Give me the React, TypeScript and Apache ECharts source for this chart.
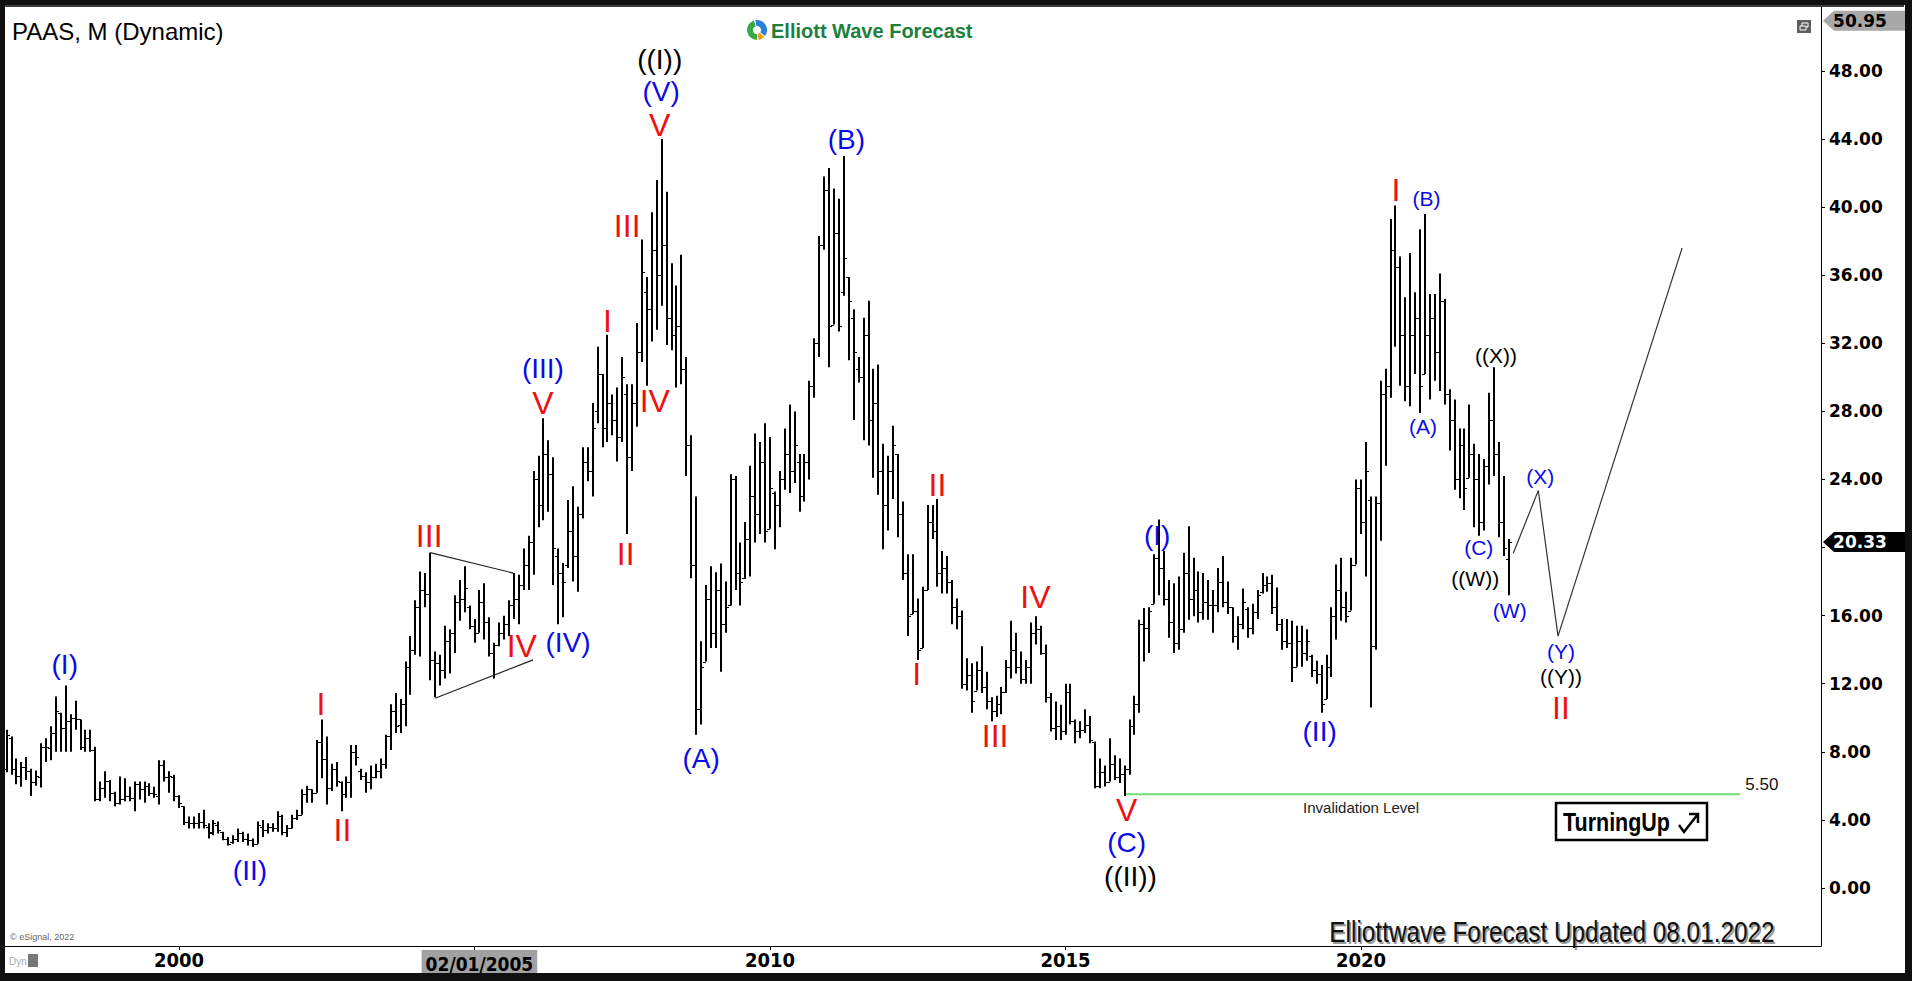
import React, { useEffect, useRef } from 'react';
import * as echarts from 'echarts';

// ---- Monthly OHLC bars: [open, high, low, close]; first bar = Feb 1997 ----
const FIRST_MONTH = -35; // month index counted from Jan 2000 = 0

const y1997 = [
  [7.0, 9.3, 6.8, 9.0], [8.8, 8.9, 6.65, 7.0], [7.0, 7.6, 6.1, 6.6], [6.6, 7.4, 5.95, 7.1],
  [7.1, 7.7, 6.35, 6.9], [6.9, 7.0, 5.4, 6.2], [6.2, 6.9, 6.0, 6.6], [6.5, 8.5, 5.9, 8.3],
  [8.3, 8.8, 7.4, 8.3], [8.2, 9.5, 7.5, 9.1], [9.1, 11.25, 8.0, 10.4],
];
const y1998 = [
  [10.3, 10.3, 8.0, 9.4], [9.4, 11.9, 8.0, 9.8], [9.8, 10.2, 8.0, 10.0], [10.0, 11.0, 9.3, 9.9],
  [9.9, 9.9, 8.1, 8.3], [8.3, 9.3, 8.0, 8.8], [8.8, 9.3, 8.0, 8.1], [8.1, 8.3, 5.1, 5.2],
  [5.2, 6.25, 5.1, 5.9], [5.9, 6.85, 5.3, 6.3], [6.3, 6.35, 5.1, 5.6], [5.6, 5.65, 4.8, 5.0],
];
const y1999 = [
  [5.0, 6.55, 4.9, 5.2], [5.2, 6.45, 5.1, 5.4], [5.4, 5.95, 5.1, 5.3], [5.3, 6.25, 4.5, 6.1],
  [6.1, 6.25, 5.2, 5.8], [5.8, 6.25, 5.0, 6.0], [6.0, 6.15, 5.4, 5.6], [5.6, 5.95, 5.3, 5.5],
  [5.4, 7.5, 4.9, 7.2], [7.2, 7.5, 6.25, 6.5], [6.5, 6.85, 5.6, 6.6], [6.5, 6.65, 5.1, 5.4],
];
const y2000 = [
  [5.4, 5.45, 4.7, 5.0], [4.8, 4.8, 3.7, 3.9], [3.9, 4.2, 3.5, 3.8], [3.8, 4.2, 3.5, 3.8],
  [3.8, 4.4, 3.5, 3.9], [3.9, 4.6, 3.5, 3.7], [3.6, 3.8, 2.9, 3.2], [3.3, 4.0, 3.1, 3.8],
  [3.7, 3.9, 3.2, 3.4], [3.3, 3.3, 2.8, 2.9], [2.9, 3.0, 2.5, 2.6], [2.7, 3.1, 2.6, 2.9],
];
const y2001 = [
  [2.9, 3.5, 2.7, 3.2], [3.2, 3.3, 2.7, 2.9], [2.9, 3.2, 2.5, 2.8], [2.8, 2.9, 2.4, 2.6],
  [2.6, 3.9, 2.6, 3.7], [3.6, 4.0, 3.0, 3.4], [3.4, 3.8, 3.2, 3.6], [3.6, 3.8, 3.3, 3.5],
  [3.5, 4.5, 3.3, 4.2], [4.2, 4.3, 3.1, 3.3], [3.3, 3.7, 3.0, 3.5], [3.5, 4.3, 3.5, 4.1],
];
const y2002 = [
  [4.1, 4.6, 4.0, 4.3], [4.3, 5.8, 4.3, 5.5], [5.5, 6.0, 5.0, 5.8], [5.8, 5.8, 5.0, 5.6],
  [5.6, 8.7, 5.6, 8.6], [8.6, 9.9, 6.45, 7.6], [7.6, 8.9, 4.9, 5.9], [5.9, 7.3, 5.7, 7.0],
  [7.0, 7.4, 5.95, 6.3], [6.2, 6.25, 4.5, 5.5], [5.5, 6.55, 5.3, 6.2], [6.2, 8.4, 5.3, 8.0],
];
const y2003 = [
  [8.0, 8.4, 7.2, 7.7], [6.9, 7.0, 6.35, 6.6], [6.6, 6.8, 5.6, 6.2], [6.2, 7.2, 5.8, 6.5],
  [6.5, 7.3, 6.45, 6.9], [6.9, 7.6, 6.45, 7.3], [7.3, 9.0, 7.0, 8.9], [8.9, 10.8, 8.1, 10.4],
  [10.4, 11.45, 9.1, 9.5], [9.6, 11.1, 9.1, 10.8], [10.8, 13.3, 9.5, 13.0], [13.0, 14.8, 11.35, 14.0],
];
const y2004 = [
  [14.0, 16.9, 13.7, 16.5], [16.5, 18.6, 13.6, 17.5], [17.5, 18.5, 16.5, 17.3], [17.3, 19.7, 12.2, 13.4],
  [13.4, 13.9, 11.2, 13.2], [13.2, 13.7, 11.9, 12.8], [12.8, 15.4, 12.3, 14.5], [14.5, 15.2, 12.6, 15.0],
  [15.0, 17.2, 13.8, 16.8], [16.8, 18.1, 15.7, 17.0], [17.0, 18.9, 16.2, 17.6], [16.5, 16.6, 15.2, 15.4],
];
const y2005 = [
  [15.4, 15.8, 14.4, 15.0], [15.0, 17.5, 15.0, 16.8], [16.8, 17.9, 14.6, 15.6], [15.6, 15.9, 13.6, 13.8],
  [13.8, 14.4, 12.3, 14.3], [14.3, 15.6, 14.2, 15.0], [15.0, 16.0, 14.6, 15.5], [15.5, 16.9, 14.8, 16.6],
  [16.6, 18.5, 15.8, 17.0], [17.0, 18.4, 15.5, 17.8], [17.8, 19.95, 17.5, 19.0], [19.0, 20.7, 17.5, 20.3],
];
const y2006 = [
  [20.3, 24.5, 18.4, 24.0], [24.0, 25.4, 21.2, 22.5], [22.5, 27.6, 21.6, 25.5], [25.5, 26.3, 22.1, 24.3],
  [24.3, 25.3, 17.8, 20.0], [19.5, 19.95, 15.5, 18.5], [18.5, 19.1, 15.9, 18.0], [19.0, 22.8, 18.8, 21.0],
  [21.0, 23.6, 18.0, 19.5], [19.5, 22.4, 17.4, 22.0], [22.0, 25.9, 21.7, 25.0], [25.0, 25.9, 23.9, 24.5],
];
const y2007 = [
  [24.5, 28.5, 23.0, 27.0], [28.0, 31.8, 27.3, 30.2], [30.2, 30.2, 25.9, 27.0], [27.0, 32.5, 26.2, 28.5],
  [28.5, 29.0, 26.6, 27.5], [27.5, 29.4, 25.05, 26.5], [26.5, 31.2, 26.2, 30.0], [29.0, 29.6, 20.8, 25.3],
  [25.3, 29.6, 24.5, 28.5], [28.5, 33.2, 27.1, 31.5], [31.5, 38.1, 30.9, 36.2], [35.0, 35.9, 29.5, 34.0],
];
const y2008 = [
  [34.0, 39.7, 32.1, 37.5], [37.5, 41.6, 32.8, 36.0], [36.0, 44.0, 34.2, 37.8], [37.8, 40.9, 31.9, 33.5],
  [33.5, 36.7, 31.6, 32.5], [32.5, 35.4, 29.4, 33.0], [33.0, 37.2, 29.6, 30.5], [30.5, 31.2, 24.2, 26.0],
  [26.0, 26.6, 18.2, 19.0], [19.0, 23.0, 9.0, 10.5], [10.5, 14.5, 9.6, 13.0], [13.3, 17.8, 13.3, 17.0],
];
const y2009 = [
  [17.0, 18.9, 14.1, 15.0], [15.0, 18.55, 14.1, 17.5], [17.5, 19.06, 12.7, 15.5], [15.5, 18.0, 15.0, 16.5],
  [16.6, 24.3, 16.6, 24.0], [24.0, 24.2, 17.5, 18.5], [18.5, 20.3, 16.6, 18.0], [18.2, 21.5, 18.16, 20.5],
  [20.5, 24.8, 18.3, 23.0], [23.0, 26.7, 20.3, 22.0], [22.0, 26.2, 20.8, 25.0], [25.0, 27.3, 20.3, 21.0],
];
const y2010 = [
  [21.1, 26.5, 21.1, 23.5], [23.2, 23.3, 19.9, 22.5], [22.5, 24.5, 21.2, 24.0], [24.0, 27.0, 23.4, 25.5],
  [25.5, 28.4, 23.2, 24.5], [24.5, 28.0, 23.8, 26.0], [25.0, 25.5, 22.1, 23.0], [23.0, 25.5, 22.7, 25.0],
  [25.0, 29.8, 24.0, 29.5], [29.5, 32.3, 28.8, 32.0], [32.0, 38.3, 31.2, 37.8], [37.8, 41.8, 37.5, 41.0],
];
const y2011 = [
  [41.0, 42.3, 30.6, 33.0], [33.1, 41.1, 33.1, 38.5], [38.5, 40.5, 32.7, 33.0], [35.0, 43.0, 34.8, 37.0],
  [35.9, 35.9, 31.0, 34.5], [33.5, 34.0, 27.5, 31.5], [30.5, 31.2, 29.7, 30.0], [30.0, 33.5, 26.3, 32.5],
  [32.5, 34.5, 26.0, 27.5], [27.5, 30.5, 24.1, 28.5], [28.5, 30.75, 23.1, 24.5], [24.5, 26.1, 19.9, 22.5],
];
const y2012 = [
  [22.5, 25.4, 21.0, 24.5], [24.5, 27.15, 22.85, 26.0], [25.5, 25.5, 20.6, 22.0], [22.0, 22.7, 18.1, 18.5],
  [18.5, 19.6, 14.8, 16.0], [16.1, 19.6, 16.1, 16.3], [16.3, 17.0, 13.4, 14.0], [14.1, 17.7, 14.1, 17.5],
  [17.5, 22.5, 17.5, 21.5], [21.5, 22.5, 20.5, 21.0], [21.0, 22.85, 17.7, 18.5], [18.5, 19.8, 17.3, 18.8],
];
const y2013 = [
  [18.8, 19.5, 17.3, 18.0], [18.0, 18.1, 15.5, 16.5], [16.5, 17.0, 15.2, 16.0], [16.0, 16.3, 11.7, 12.0],
  [12.0, 13.5, 11.6, 12.5], [12.5, 13.2, 10.3, 11.0], [11.6, 13.3, 11.6, 12.8], [12.8, 14.2, 11.45, 11.8],
  [11.8, 12.7, 10.5, 11.0], [11.0, 11.2, 9.8, 10.4], [10.4, 11.3, 10.05, 10.8], [10.8, 11.8, 10.2, 11.5],
];
const y2014 = [
  [11.5, 13.4, 11.45, 13.0], [13.0, 15.7, 12.3, 14.0], [14.0, 15.0, 12.6, 13.0], [13.0, 13.9, 12.0, 12.3],
  [12.3, 13.4, 12.0, 13.0], [13.0, 15.6, 12.0, 15.0], [15.0, 15.96, 14.3, 15.2], [15.2, 15.4, 13.7, 13.8],
  [13.8, 14.3, 10.9, 11.2], [11.2, 11.45, 9.2, 9.4], [9.4, 10.96, 8.7, 9.5], [9.5, 10.76, 8.7, 9.2],
];
const y2015 = [
  [9.2, 12.0, 9.0, 11.5], [11.5, 12.0, 9.6, 9.8], [9.8, 9.9, 8.5, 9.2], [9.2, 9.8, 8.8, 9.3],
  [9.3, 10.5, 9.1, 9.6], [9.6, 10.1, 8.5, 8.7], [8.6, 8.6, 5.86, 6.0], [6.0, 7.6, 5.86, 6.8],
  [6.8, 7.2, 5.96, 6.2], [6.25, 8.8, 6.25, 7.3], [7.3, 7.8, 6.35, 6.5], [6.5, 7.6, 6.16, 6.7],
];
const y2016 = [
  [6.7, 7.2, 5.4, 7.0], [7.0, 9.9, 6.65, 9.5], [9.5, 11.3, 9.0, 10.8], [10.8, 15.76, 10.3, 15.5],
  [15.5, 16.45, 13.3, 15.3], [15.3, 16.5, 13.8, 16.3], [16.7, 19.6, 16.7, 19.4], [19.4, 21.65, 17.2, 18.8],
  [18.8, 19.8, 16.6, 17.0], [17.0, 18.1, 14.7, 15.6], [15.6, 17.9, 13.8, 14.4], [14.4, 18.3, 14.0, 15.2],
];
const y2017 = [
  [15.2, 19.7, 15.0, 18.5], [18.5, 21.25, 15.76, 17.0], [17.0, 19.4, 15.96, 17.5], [17.5, 18.6, 15.6, 16.2],
  [16.2, 18.5, 15.76, 16.8], [16.8, 18.1, 15.76, 16.6], [16.6, 17.5, 15.0, 16.6], [16.6, 18.8, 16.2, 18.0],
  [18.0, 19.5, 16.5, 16.8], [16.8, 18.0, 16.1, 16.5], [16.5, 16.5, 14.4, 14.8], [14.8, 15.96, 14.0, 15.5],
];
const y2018 = [
  [15.5, 17.6, 15.2, 16.8], [16.4, 16.5, 14.7, 15.3], [15.3, 16.7, 14.9, 16.2], [16.2, 17.5, 15.8, 17.2],
  [17.4, 18.5, 17.3, 17.8], [17.8, 18.3, 17.4, 17.9], [17.9, 18.4, 16.1, 16.5], [16.5, 17.65, 15.1, 15.5],
  [15.5, 15.8, 14.0, 14.5], [14.5, 15.8, 14.1, 14.4], [14.4, 15.7, 12.1, 13.0], [13.0, 15.4, 13.0, 14.5],
];
const y2019 = [
  [14.5, 15.4, 13.0, 13.8], [13.8, 15.2, 13.35, 14.5], [13.6, 13.7, 12.4, 12.8], [12.8, 13.35, 12.0, 12.6],
  [12.6, 13.1, 10.3, 10.8], [11.1, 13.7, 11.1, 13.0], [13.0, 16.5, 12.4, 16.0], [16.0, 19.0, 14.6, 17.5],
  [17.5, 19.4, 15.7, 16.5], [16.5, 17.4, 15.6, 16.0], [16.3, 19.4, 16.3, 19.0], [19.0, 24.0, 19.0, 23.5],
];
const y2020 = [
  [23.5, 24.0, 20.8, 21.5], [21.5, 26.2, 18.3, 24.5], [22.8, 23.0, 10.6, 14.2], [14.2, 23.0, 14.0, 22.6],
  [22.6, 29.8, 20.4, 29.0], [29.0, 30.5, 24.8, 29.5], [29.5, 39.3, 28.8, 37.5], [37.5, 40.1, 31.8, 36.5],
  [36.5, 37.1, 29.5, 32.5], [32.5, 34.7, 28.6, 29.5], [29.5, 37.3, 28.3, 32.5], [32.5, 35.0, 30.2, 33.5],
];
const y2021 = [
  [33.5, 38.7, 27.9, 29.5], [30.2, 39.6, 30.2, 32.5], [32.5, 34.9, 28.7, 33.5], [33.5, 34.9, 29.8, 31.5],
  [31.5, 36.1, 29.2, 34.5], [34.5, 34.6, 28.4, 29.0], [29.0, 29.3, 25.7, 27.5], [27.5, 28.7, 23.4, 24.0],
  [24.0, 27.0, 22.9, 26.0], [26.0, 27.0, 22.2, 23.5], [24.1, 28.4, 24.1, 25.5], [25.5, 26.1, 21.2, 24.0],
];
const y2022 = [
  [24.0, 25.5, 20.7, 21.5], [21.5, 25.2, 21.0, 24.8], [24.8, 29.1, 23.7, 27.5], [27.5, 30.6, 24.2, 25.5],
  [25.5, 26.2, 20.6, 21.5], [21.5, 24.2, 19.5, 20.0], [19.3, 20.5, 17.2, 20.33],
];
const ohlcYears = [
  y1997, y1998, y1999, y2000, y2001, y2002, y2003, y2004, y2005, y2006, y2007, y2008, y2009,
  y2010, y2011, y2012, y2013, y2014, y2015, y2016, y2017, y2018, y2019, y2020, y2021, y2022,
];

// ---- Wave labels: [text, monthIndex, price, style] ----
const waveLabels: [string, number, number, string][] = [
  ['(I)', -23.2, 13.1, 'blue'],
  ['(II)', 14.4, 1.0, 'blue'],
  ['I', 28.8, 10.8, 'red'],
  ['II', 33.2, 3.4, 'red'],
  ['III', 50.8, 20.7, 'red'],
  ['IV', 69.6, 14.2, 'red'],
  ['(IV)', 79.0, 14.4, 'blue'],
  ['V', 73.9, 28.5, 'red'],
  ['(III)', 73.9, 30.5, 'blue'],
  ['I', 87.0, 33.3, 'red'],
  ['II', 90.7, 19.6, 'red'],
  ['III', 91.0, 38.9, 'red'],
  ['IV', 96.6, 28.6, 'red'],
  ['V', 97.6, 44.8, 'red'],
  ['(V)', 97.9, 46.8, 'blue'],
  ['((I))', 97.6, 48.7, 'black'],
  ['(A)', 106.0, 7.6, 'blue'],
  ['(B)', 135.5, 44.0, 'blue'],
  ['I', 149.8, 12.6, 'red'],
  ['II', 154.0, 23.7, 'red'],
  ['III', 165.7, 8.9, 'red'],
  ['IV', 173.9, 17.1, 'red'],
  ['V', 192.4, 4.6, 'red'],
  ['(C)', 192.4, 2.7, 'blue'],
  ['((II))', 193.2, 0.7, 'black'],
  ['(I)', 198.6, 20.7, 'blue'],
  ['(II)', 231.6, 9.2, 'blue'],
  ['I', 247.1, 41.0, 'red'],
  ['(B)', 253.3, 40.5, 'blueS'],
  ['(A)', 252.6, 27.1, 'blueS'],
  ['((X))', 267.4, 31.3, 'blackS'],
  ['(C)', 263.9, 20.0, 'blueS'],
  ['((W))', 263.2, 18.2, 'blackS'],
  ['(W)', 270.2, 16.3, 'blueS'],
  ['(X)', 276.4, 24.2, 'blueS'],
  ['(Y)', 280.6, 13.9, 'blueS'],
  ['((Y))', 280.6, 12.4, 'blackS'],
  ['II', 280.6, 10.6, 'red'],
  ['Invalidation Level', 240.0, 4.7, 'note'],
  ['5.50', 321.4, 6.1, 'level'],
];

const triangleUpper = [[51.0, 19.7], [67.9, 18.5]];
const triangleLower = [[52.0, 11.15], [71.9, 13.4]];
const projection = [[270.9, 19.65], [276.0, 23.35], [280.0, 14.8], [305.2, 37.6]];
const invalidation = [[192.3, 5.5], [317.0, 5.5]];

const lastPrice = 20.33;
const axisTopValue = 50.95;
const yTickValues = [0, 4, 8, 12, 16, 20, 24, 28, 32, 36, 40, 44, 48];
const yLabelValues = [0, 4, 8, 12, 16, 24, 28, 32, 36, 40, 44, 48]; // 20.00 sits under the last-price tag
const xTickMonths = [0, 60, 120, 180, 240];
const xLabelMonths = [0, 61, 120, 180, 240];
const crosshairMonth = 61;
const crosshairLabel = '02/01/2005';

// axis ranges matching the plot frame
const X_MIN = -35.33;
const X_MAX = 333.4;
const Y_MIN = -3.41;
const Y_MAX = 51.76;

const SANS = '"Liberation Sans", Arial, sans-serif';
const COND = '"DejaVu Sans Condensed", "Liberation Sans", sans-serif';

const LABEL_STYLE: Record<string, { color: string; size: number; font: string }> = {
  red: { color: '#ee1111', size: 32, font: SANS },
  blue: { color: '#0b0be8', size: 28, font: SANS },
  black: { color: '#000000', size: 28, font: SANS },
  blueS: { color: '#0b0be8', size: 21, font: SANS },
  blackS: { color: '#000000', size: 21, font: SANS },
  note: { color: '#222222', size: 15, font: SANS },
  level: { color: '#111111', size: 17, font: SANS },
};

function buildBars() {
  const out: number[][] = [];
  let idx = FIRST_MONTH;
  for (const yr of ohlcYears) {
    for (const b of yr) {
      out.push([idx, b[0], b[1], b[2], b[3]]);
      idx += 1;
    }
  }
  return out;
}

function tag(y: number, fill: string, textFill: string, text: string) {
  return {
    type: 'group',
    children: [
      {
        type: 'polygon',
        shape: { points: [[1823, y], [1834, y - 10], [1907, y - 10], [1907, y + 10], [1834, y + 10]] },
        style: { fill },
      },
      {
        type: 'text',
        x: 1860,
        y: y,
        style: {
          text, fill: textFill, fontSize: 17, fontWeight: 'bold', fontFamily: '"DejaVu Sans", sans-serif',
          align: 'center', verticalAlign: 'middle', textAlign: 'center', textVerticalAlign: 'middle',
        },
      },
    ],
  };
}

function staticGraphics() {
  const g: any[] = [];
  // outer frame
  g.push({ type: 'rect', shape: { x: 0, y: 0, width: 1912, height: 5 }, style: { fill: '#101010' }, z: 100 });
  g.push({ type: 'rect', shape: { x: 0, y: 5, width: 1904, height: 2 }, style: { fill: '#3c3c3c' }, z: 100 });
  g.push({ type: 'rect', shape: { x: 0, y: 0, width: 5, height: 981 }, style: { fill: '#101010' }, z: 100 });
  g.push({ type: 'rect', shape: { x: 0, y: 973, width: 1912, height: 8 }, style: { fill: '#101010' }, z: 100 });
  g.push({ type: 'rect', shape: { x: 1905, y: 0, width: 7, height: 981 }, style: { fill: '#101010' }, z: 100 });
  // title
  g.push({
    type: 'text', x: 12, y: 31,
    style: { text: 'PAAS, M (Dynamic)', fill: '#000', fontSize: 24, fontFamily: SANS, verticalAlign: 'middle', textVerticalAlign: 'middle' },
  });
  // logo
  g.push({ type: 'sector', shape: { cx: 757, cy: 30, r: 10, r0: 4, startAngle: Math.PI * 0.5, endAngle: Math.PI * 1.4 }, style: { fill: '#3aa845' } });
  g.push({ type: 'sector', shape: { cx: 757, cy: 30, r: 10, r0: 4, startAngle: Math.PI * 1.45, endAngle: Math.PI * 2.2 }, style: { fill: '#2a7fd6' } });
  g.push({ type: 'sector', shape: { cx: 757, cy: 30, r: 10, r0: 4, startAngle: Math.PI * 2.25, endAngle: Math.PI * 2.45 }, style: { fill: '#f29b1d' } });
  g.push({
    type: 'text', x: 771, y: 31,
    style: { text: 'Elliott Wave Forecast', fill: '#1b7f3e', fontSize: 20, fontWeight: 'bold', fontFamily: SANS, verticalAlign: 'middle', textVerticalAlign: 'middle' },
  });
  // restore icon
  g.push({ type: 'rect', shape: { x: 1797, y: 20, width: 14, height: 13 }, style: { fill: '#5e5e5e' } });
  g.push({ type: 'rect', shape: { x: 1802, y: 23, width: 6, height: 4 }, style: { fill: 'none', stroke: '#fff', lineWidth: 1 } });
  g.push({ type: 'rect', shape: { x: 1800, y: 26, width: 6, height: 4 }, style: { fill: '#5e5e5e', stroke: '#fff', lineWidth: 1 } });
  // eSignal credits
  g.push({ type: 'text', x: 10, y: 937, style: { text: '© eSignal, 2022', fill: '#666', fontSize: 9, fontFamily: SANS, verticalAlign: 'middle', textVerticalAlign: 'middle' } });
  g.push({ type: 'text', x: 9, y: 961, style: { text: 'Dyn', fill: '#aaa', fontSize: 10, fontFamily: SANS, verticalAlign: 'middle', textVerticalAlign: 'middle' } });
  g.push({ type: 'rect', shape: { x: 28, y: 954, width: 10, height: 13 }, style: { fill: '#777' } });
  // update stamp with shadow (condensed by scaling)
  g.push({
    type: 'group', x: 1552, y: 932, scaleX: 0.84,
    children: [
      {
        type: 'text', x: 2, y: 2,
        style: { text: 'Elliottwave Forecast Updated 08.01.2022', fill: '#9a9a9a', fontSize: 29, fontFamily: SANS, align: 'center', verticalAlign: 'middle', textAlign: 'center', textVerticalAlign: 'middle' },
      },
      {
        type: 'text', x: 0, y: 0,
        style: { text: 'Elliottwave Forecast Updated 08.01.2022', fill: '#111', fontSize: 29, fontFamily: SANS, align: 'center', verticalAlign: 'middle', textAlign: 'center', textVerticalAlign: 'middle' },
      },
    ],
  });
  // Turning Up badge
  g.push({ type: 'rect', shape: { x: 1556, y: 803, width: 151, height: 37 }, style: { fill: '#fff', stroke: '#000', lineWidth: 2.5 } });
  g.push({
    type: 'group', x: 1563, y: 822, scaleX: 0.86,
    children: [
      {
        type: 'text', x: 0, y: 0,
        style: { text: 'TurningUp', fill: '#000', fontSize: 25, fontWeight: 'bold', fontFamily: SANS, verticalAlign: 'middle', textVerticalAlign: 'middle' },
      },
    ],
  });
  g.push({ type: 'polyline', shape: { points: [[1679, 825], [1684, 832], [1698, 814]] }, style: { stroke: '#000', lineWidth: 2.5, fill: 'none' } });
  g.push({ type: 'polyline', shape: { points: [[1689, 814], [1698, 814], [1698, 823]] }, style: { stroke: '#000', lineWidth: 2.5, fill: 'none' } });
  return g;
}

export default function App() {
  const ref = useRef<HTMLDivElement>(null);
  useEffect(() => {
    if (!ref.current) return;
    const chart = echarts.init(ref.current, null, { renderer: 'svg' });
    const bars = buildBars();
    const option: any = {
      animation: false,
      backgroundColor: '#ffffff',
      grid: { left: 5, right: 91, top: 7, bottom: 35, containLabel: false, outerBoundsMode: 'none' },
      xAxis: {
        type: 'value', min: X_MIN, max: X_MAX,
        splitLine: { show: false },
        axisLine: { show: true, onZero: false, lineStyle: { color: '#000', width: 1 } },
        axisTick: { show: true, customValues: xTickMonths, length: 4, lineStyle: { color: '#000' } },
        axisLabel: {
          customValues: xLabelMonths, margin: 4,
          formatter: (v: number) => (Math.round(v) === crosshairMonth ? '{hl|' + crosshairLabel + '}' : '{yr|' + (2000 + Math.round(v / 12)) + '}'),
          rich: {
            yr: { fontFamily: COND, fontWeight: 'bold', fontSize: 20, color: '#000' },
            hl: { fontFamily: COND, fontWeight: 'bold', fontSize: 19, color: '#000', backgroundColor: '#a2a2a2', padding: [4, 4, 3, 4] },
          },
        },
      },
      yAxis: {
        type: 'value', position: 'right', min: Y_MIN, max: Y_MAX,
        splitLine: { show: false },
        axisLine: { show: true, onZero: false, lineStyle: { color: '#000', width: 1 } },
        axisTick: { show: true, customValues: yTickValues, length: 4, lineStyle: { color: '#000' } },
        axisLabel: {
          customValues: yLabelValues, margin: 8, color: '#000',
          fontFamily: '"DejaVu Sans", sans-serif', fontWeight: 'bold', fontSize: 17,
          formatter: (v: number) => v.toFixed(2),
        },
      },
      series: [
        {
          type: 'custom', name: 'PAAS', data: bars, clip: true,
          encode: { x: 0, y: [1, 2, 3, 4] },
          renderItem: (params: any, api: any) => {
            const i = api.value(0);
            const pH = api.coord([i, api.value(2)]);
            const pL = api.coord([i, api.value(3)]);
            const pO = api.coord([i, api.value(1)]);
            const pC = api.coord([i, api.value(4)]);
            const x = Math.round(pH[0]);
            const yo = Math.round(pO[1]) + 0.5;
            const yc = Math.round(pC[1]) + 0.5;
            return {
              type: 'group',
              children: [
                { type: 'line', shape: { x1: x, y1: pH[1], x2: x, y2: pL[1] }, style: { stroke: '#000', lineWidth: 2 } },
                { type: 'line', shape: { x1: x - 3, y1: yo, x2: x, y2: yo }, style: { stroke: '#000', lineWidth: 1 } },
                { type: 'line', shape: { x1: x, y1: yc, x2: x + 3, y2: yc }, style: { stroke: '#000', lineWidth: 1 } },
              ],
            };
          },
        },
        { type: 'line', data: triangleUpper, showSymbol: false, silent: true, lineStyle: { color: '#222', width: 1.2 } },
        { type: 'line', data: triangleLower, showSymbol: false, silent: true, lineStyle: { color: '#222', width: 1.2 } },
        { type: 'line', data: projection, showSymbol: false, silent: true, lineStyle: { color: '#333', width: 1.2 } },
        { type: 'line', data: invalidation, showSymbol: false, silent: true, lineStyle: { color: '#6ee06e', width: 2 } },
        {
          type: 'custom', name: 'labels', clip: false, silent: true,
          data: waveLabels.map((l) => [l[1], l[2]]),
          renderItem: (params: any, api: any) => {
            const lab = waveLabels[params.dataIndex];
            const st = LABEL_STYLE[lab[3]];
            const pt = api.coord([api.value(0), api.value(1)]);
            return {
              type: 'text', x: pt[0], y: pt[1],
              style: {
                text: lab[0], fill: st.color, fontSize: st.size, fontFamily: st.font,
                align: 'center', verticalAlign: 'middle',
              },
            };
          },
        },
      ],
    };
    chart.setOption(option);
    const yTop = chart.convertToPixel({ yAxisIndex: 0 }, axisTopValue) as number;
    const yLast = chart.convertToPixel({ yAxisIndex: 0 }, lastPrice) as number;
    chart.setOption({
      graphic: [
        ...staticGraphics(),
        tag(yTop, '#a8a8a8', '#000', axisTopValue.toFixed(2)),
        tag(yLast, '#000000', '#ffffff', lastPrice.toFixed(2)),
      ],
    });
    return () => chart.dispose();
  }, []);
  return <div ref={ref} style={{ position: 'fixed', left: 0, top: 0, width: 1912, height: 981, background: '#fff' }} />;
}
